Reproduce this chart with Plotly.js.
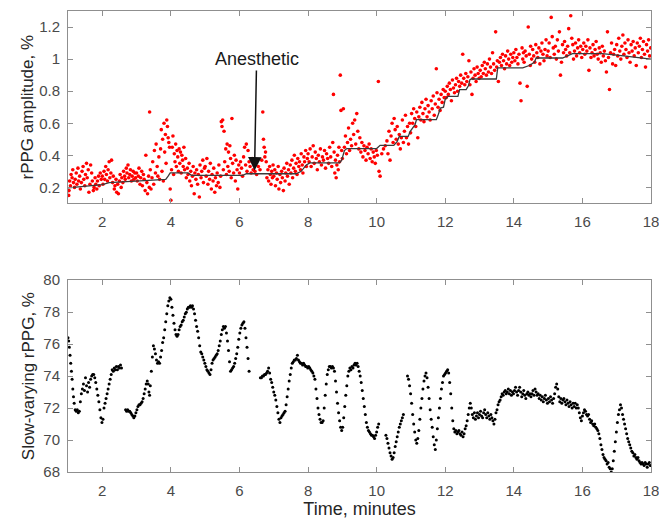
<!DOCTYPE html>
<html>
<head>
<meta charset="utf-8">
<script src="https://cdn.plot.ly/plotly-3.0.1.min.js"></script>
<style>html,body{margin:0;padding:0;background:#fff;}#chart{width:659px;height:521px;}</style>
</head>
<body>
<div id="chart"></div>
<script>
// ---- Top panel: rPPG amplitude (red dots) ----
const ampT = [
1.02,1.03,1.05,1.07,1.09,1.12,1.14,1.16,1.19,1.21,
1.24,1.26,1.29,1.31,1.34,1.36,1.39,1.41,1.44,1.46,
1.49,1.51,1.54,1.56,1.59,1.61,1.64,1.66,1.69,1.71,
1.74,1.76,1.79,1.81,1.84,1.86,1.89,1.91,1.94,1.97,
2.00,2.02,2.05,2.07,2.10,2.12,2.15,2.17,2.20,2.22,
2.25,2.27,2.30,2.32,2.35,2.37,2.40,2.42,2.45,2.47,
2.50,2.52,2.55,2.57,2.60,2.62,2.65,2.67,2.70,2.72,
2.75,2.77,2.80,2.82,2.85,2.87,2.90,2.92,2.95,2.97,
3.00,3.02,3.05,3.07,3.10,3.12,3.15,3.17,3.20,3.22,
3.25,3.27,3.30,3.32,3.35,3.37,3.38,3.40,3.42,3.45,
3.47,3.50,3.52,3.55,3.57,3.60,3.62,3.65,3.67,3.70,
3.72,3.74,3.76,3.78,3.80,3.82,3.84,3.86,3.88,3.90,
3.92,3.94,3.96,3.98,4.00,
4.02,4.04,4.06,4.08,4.10,4.12,4.14,4.16,4.18,4.20,
4.22,4.24,4.26,4.28,4.30,4.32,4.34,4.36,4.38,4.40,
4.43,4.45,4.48,4.50,4.53,4.55,4.58,4.60,4.63,4.65,
4.68,4.70,4.73,4.75,4.78,4.80,4.83,4.85,4.88,4.90,
4.93,4.95,4.98,
5.00,5.03,5.05,5.08,5.10,5.13,5.15,5.18,5.20,5.23,
5.25,5.28,5.30,5.33,5.35,5.38,5.40,5.43,5.45,5.47,
5.49,5.51,5.53,5.55,5.57,5.60,5.62,5.64,5.66,5.68,
5.70,5.72,5.74,5.76,5.78,5.80,5.83,5.85,5.88,5.90,
5.93,5.95,5.98,
6.00,6.03,6.06,6.09,6.12,6.15,6.18,6.20,6.22,6.25,
6.28,6.31,6.34,6.37,6.40,6.45,6.50,6.55,6.60,6.65,
6.68,6.70,6.72,6.74,6.76,6.78,6.80,6.83,6.85,6.88,
6.90,6.92,6.94,6.96,6.98,
7.00,7.03,7.05,7.08,7.10,7.13,7.15,7.18,7.20,7.23,
7.25,7.28,7.30,7.33,7.35,7.38,7.40,7.43,7.45,7.48,
7.50,7.53,7.55,7.58,7.60,7.63,7.65,7.68,7.70,7.73,
7.75,7.78,7.80,7.83,7.85,7.88,7.90,7.93,7.95,7.98,
8.00,8.03,8.06,8.09,8.12,8.15,8.18,8.21,8.24,8.27,
8.30,8.33,8.36,8.39,8.42,8.45,8.48,8.51,8.54,8.57,
8.60,8.63,8.66,8.69,8.72,8.74,8.76,8.78,8.80,8.82,
8.84,8.86,8.88,8.90,8.92,8.94,8.96,8.98,
9.00,9.03,9.06,9.09,9.12,9.15,9.18,9.21,9.24,9.27,
9.30,9.33,9.36,9.39,9.42,9.45,9.48,9.51,9.54,9.57,
9.60,9.63,9.66,9.69,9.72,9.75,9.78,9.81,9.84,9.87,
9.90,9.93,9.96,9.99,
10.02,10.05,10.07,10.10,10.15,10.20,10.25,10.30,10.33,10.36,
10.39,10.42,10.45,10.48,10.51,10.54,10.57,10.60,10.63,10.66,
10.69,10.72,10.75,10.78,10.81,10.84,10.87,10.90,10.93,10.96,
10.99,
11.02,11.05,11.08,11.11,11.14,11.17,11.20,11.23,11.26,11.29,
11.32,11.35,11.38,11.41,11.44,11.47,11.50,11.53,11.56,11.59,
11.62,11.65,11.68,11.71,11.74,11.76,11.79,11.82,11.85,11.88,
11.91,11.94,11.97,
12.00,12.03,12.06,12.09,12.12,12.15,12.18,12.21,12.24,12.27,
12.30,12.33,12.36,12.39,12.42,12.45,12.48,12.51,12.54,12.57,
12.60,12.63,12.66,12.69,12.72,12.75,12.78,12.81,12.84,12.87,
12.90,12.93,12.96,12.99,
13.02,13.05,13.08,13.11,13.14,13.17,13.20,13.23,13.26,13.29,
13.32,13.35,13.38,13.41,13.44,13.47,13.50,13.52,13.55,13.58,
13.61,13.64,13.67,13.70,13.73,13.76,13.79,13.82,13.85,13.88,
13.91,13.94,13.97,
14.00,14.03,14.06,14.09,14.12,14.15,14.18,14.21,14.24,14.26,
14.28,14.30,14.33,14.36,14.39,14.42,14.45,14.48,14.49,14.52,
14.55,14.58,14.61,14.64,14.67,14.70,14.73,14.76,14.79,14.82,
14.85,14.88,14.91,14.94,14.97,
15.00,15.03,15.06,15.09,15.12,15.15,15.18,15.21,15.24,15.27,
15.30,15.33,15.36,15.39,15.42,15.45,15.48,15.51,15.54,15.57,
15.60,15.63,15.66,15.69,15.72,15.74,15.77,15.80,15.83,15.86,
15.89,15.92,15.95,15.98,
16.01,16.04,16.07,16.10,16.13,16.16,16.19,16.22,16.25,16.28,
16.31,16.34,16.37,16.40,16.43,16.46,16.49,16.52,16.55,16.58,
16.61,16.64,16.67,16.70,16.73,16.76,16.79,16.82,16.85,16.88,
16.91,16.94,16.97,
17.00,17.03,17.06,17.09,17.12,17.15,17.18,17.21,17.24,17.27,
17.30,17.33,17.36,17.39,17.42,17.45,17.48,17.51,17.54,17.57,
17.60,17.63,17.66,17.69,17.72,17.75,17.78,17.81,17.84,17.87,
17.90,17.93,17.96,17.99
];
const ampV = [
0.15,0.18,0.24,0.21,0.28,0.26,0.31,0.23,0.20,0.25,
0.29,0.22,0.32,0.24,0.27,0.19,0.23,0.30,0.33,0.25,
0.21,0.28,0.35,0.26,0.31,0.17,0.22,0.34,0.29,0.24,
0.18,0.20,0.26,0.22,0.19,0.24,0.27,0.21,0.29,0.25,
0.27,0.22,0.30,0.25,0.33,0.28,0.24,0.31,0.36,0.26,
0.29,0.37,0.23,0.27,0.19,0.21,0.25,0.17,0.22,0.16,
0.24,0.28,0.20,0.26,0.23,0.30,0.27,0.25,0.32,0.29,
0.34,0.26,0.28,0.31,0.24,0.27,0.30,0.25,0.29,0.26,
0.29,0.24,0.27,0.32,0.22,0.26,0.30,0.21,0.28,0.25,
0.18,0.40,0.23,0.16,0.27,0.20,0.67,0.31,0.19,0.26,
0.36,0.22,0.43,0.29,0.47,0.33,0.27,0.39,0.25,0.44,
0.56,0.30,0.50,0.24,0.60,0.42,0.53,0.35,0.62,0.58,
0.51,0.48,0.45,0.19,0.12,
0.31,0.45,0.52,0.28,0.41,0.36,0.47,0.33,0.43,0.39,
0.30,0.44,0.35,0.42,0.29,0.40,0.37,0.33,0.45,0.31,
0.38,0.26,0.32,0.28,0.35,0.24,0.30,0.21,0.27,0.33,
0.16,0.29,0.25,0.31,0.22,0.28,0.14,0.34,0.26,0.30,
0.37,0.23,0.32,
0.33,0.27,0.38,0.22,0.30,0.25,0.35,0.19,0.28,0.24,
0.32,0.17,0.26,0.21,0.29,0.23,0.34,0.20,0.27,0.61,
0.58,0.62,0.31,0.55,0.36,0.44,0.28,0.47,0.33,0.42,
0.30,0.46,0.38,0.26,0.63,0.35,0.29,0.40,0.24,0.37,
0.31,0.19,0.34,
0.29,0.36,0.32,0.27,0.39,0.45,0.34,0.47,0.30,0.43,
0.36,0.33,0.29,0.38,0.31,0.30,0.28,0.33,0.31,0.37,
0.67,0.50,0.45,0.39,0.42,0.36,0.26,0.31,0.24,0.33,
0.28,0.22,0.30,0.26,0.34,
0.27,0.31,0.21,0.29,0.25,0.33,0.19,0.28,0.23,0.30,
0.26,0.18,0.32,0.24,0.29,0.35,0.27,0.31,0.22,0.34,
0.29,0.37,0.26,0.32,0.40,0.30,0.35,0.28,0.38,0.33,
0.36,0.31,0.41,0.34,0.29,0.39,0.36,0.43,0.33,0.38,
0.41,0.36,0.44,0.33,0.39,0.46,0.35,0.42,0.38,0.31,
0.40,0.36,0.44,0.34,0.39,0.37,0.43,0.32,0.41,0.38,
0.35,0.45,0.39,0.33,0.48,0.78,0.42,0.29,0.37,0.26,
0.34,0.40,0.31,0.45,0.36,0.90,0.68,0.43,
0.38,0.69,0.45,0.52,0.41,0.48,0.57,0.43,0.50,0.46,
0.60,0.53,0.62,0.47,0.66,0.55,0.44,0.51,0.42,0.48,
0.39,0.46,0.43,0.37,0.45,0.41,0.47,0.38,0.44,0.36,
0.42,0.39,0.35,0.43,
0.40,0.86,0.30,0.27,0.41,0.44,0.46,0.49,0.41,0.55,
0.37,0.52,0.60,0.48,0.63,0.56,0.50,0.58,0.47,0.53,
0.44,0.51,0.62,0.48,0.55,0.65,0.51,0.58,0.47,0.60,
0.54,
0.66,0.60,0.69,0.63,0.58,0.67,0.51,0.64,0.70,0.62,
0.73,0.66,0.61,0.69,0.75,0.64,0.71,0.67,0.62,0.74,
0.69,0.77,0.65,0.72,0.94,0.79,0.70,0.75,0.68,0.78,
0.73,0.81,0.76,
0.80,0.76,0.83,0.78,0.85,0.81,0.74,0.87,0.82,0.79,
0.84,0.88,0.80,0.86,0.83,0.90,0.85,1.03,0.88,0.84,
0.91,0.86,0.89,0.99,0.84,0.92,0.78,0.88,0.94,0.90,
0.86,0.95,0.91,0.88,
0.93,0.89,0.96,0.91,0.98,0.94,0.90,0.97,0.92,1.00,
0.95,0.91,1.04,0.97,0.93,1.17,0.95,0.99,0.86,0.98,
1.01,0.96,1.03,0.99,0.94,1.02,0.97,1.05,1.00,0.96,
1.03,0.98,1.01,
1.04,0.99,1.06,1.01,0.97,1.03,0.85,0.74,1.07,1.00,
1.04,0.98,1.05,1.02,0.83,1.20,1.03,0.96,1.08,1.00,
1.06,1.02,0.98,1.09,1.04,1.01,1.07,0.97,1.05,1.10,
1.03,0.99,1.06,1.12,1.02,
1.05,1.10,1.01,1.26,1.14,1.07,1.03,1.08,1.00,1.12,
1.05,1.17,0.90,0.98,1.09,1.04,1.11,1.06,1.02,1.08,
1.19,1.04,1.27,1.13,1.09,1.00,1.05,1.10,1.02,1.07,
1.12,1.04,1.08,1.01,
1.06,1.10,1.03,1.08,1.05,1.12,0.93,1.07,1.01,1.04,
1.09,1.02,1.06,1.11,1.03,1.00,1.07,1.04,0.98,1.08,
1.02,1.05,0.99,0.92,1.17,1.01,0.81,1.04,1.10,0.97,
1.03,1.06,0.96,
1.09,1.02,1.13,1.05,1.00,1.08,1.15,1.03,1.10,1.06,
1.01,1.12,1.04,0.98,1.09,1.05,1.11,1.02,1.07,0.96,
1.10,1.04,1.08,1.13,1.01,1.06,1.11,1.03,0.95,1.09,
1.05,1.12,1.02,1.07
];
// smoothed (step-like) amplitude trend
const medT = [1.0,2.0,2.2,2.9,3.85,3.92,3.98,4.5,4.6,6.1,6.2,7.65,7.8,7.95,8.05,8.92,8.98,9.06,9.13,10.0,10.1,10.5,10.55,10.6,10.66,10.92,10.98,11.12,11.16,11.74,11.8,11.86,11.95,12.0,12.08,12.37,12.42,12.61,12.68,12.72,12.76,13.49,13.53,14.26,14.45,14.6,14.65,15.42,15.71,16.58,17.2,18.0];
const medV = [0.197,0.217,0.23,0.24,0.25,0.27,0.29,0.29,0.275,0.275,0.285,0.285,0.30,0.34,0.353,0.353,0.37,0.43,0.442,0.442,0.462,0.462,0.475,0.487,0.518,0.518,0.55,0.591,0.622,0.622,0.656,0.695,0.70,0.75,0.768,0.768,0.81,0.81,0.835,0.872,0.876,0.876,0.945,0.945,0.96,0.98,1.007,1.007,1.034,1.034,1.02,1.0];

// ---- Bottom panel: slow-varying rPPG ----
const slowT = [
1.00,1.02,1.04,1.06,1.08,1.10,1.12,1.14,1.16,1.18,
1.21,1.24,1.27,1.30,1.33,1.36,1.39,1.42,1.45,1.48,
1.51,1.54,1.57,1.60,1.63,1.66,1.69,1.72,1.75,1.78,
1.81,1.84,1.87,1.90,1.93,1.96,1.99,2.02,2.05,2.08,
2.11,2.14,2.17,2.20,2.23,2.26,2.29,2.32,2.35,2.38,
2.41,2.44,2.47,2.50,2.53,2.56,
2.68,2.71,2.74,2.77,2.80,2.83,2.86,2.89,2.92,2.95,
2.98,3.01,3.04,3.07,3.10,3.13,3.16,3.19,3.22,3.25,
3.28,3.31,3.34,3.36,3.38,3.40,3.43,3.46,3.49,3.52,
3.55,3.58,3.61,3.64,3.67,3.70,3.73,3.76,3.79,3.82,
3.85,3.88,3.91,3.94,3.97,4.00,4.03,4.06,4.09,4.12,
4.15,4.18,4.21,4.24,4.27,4.30,4.33,4.36,4.39,4.42,
4.45,4.48,4.51,4.54,4.57,4.60,4.63,4.66,4.69,4.72,
4.75,4.78,4.81,4.84,4.87,4.90,4.93,4.96,4.99,5.02,
5.05,5.08,5.11,5.14,5.17,5.20,5.23,5.26,5.29,5.32,
5.35,5.38,5.41,5.44,5.47,5.50,5.53,5.56,5.59,5.62,
5.65,5.68,5.71,5.74,5.77,5.80,5.83,5.86,5.89,5.92,
5.95,5.98,6.01,6.04,6.07,6.10,6.13,6.16,6.19,6.22,
6.25,6.28,
6.61,6.64,6.67,6.70,6.73,6.76,6.79,6.82,6.85,6.88,
6.91,6.94,6.97,7.00,7.03,7.06,7.09,7.12,7.15,7.18,
7.21,7.24,7.27,7.30,7.33,7.36,7.39,7.42,7.45,7.48,
7.51,7.54,7.57,7.60,7.63,7.66,7.69,7.72,7.75,7.78,
7.81,7.84,7.87,7.90,7.93,7.96,7.99,8.02,8.05,8.08,
8.11,8.14,8.17,8.20,8.23,8.26,8.29,8.32,8.35,8.38,
8.41,8.44,8.47,8.50,8.53,8.56,8.59,8.62,8.65,8.68,
8.71,8.74,8.77,8.80,8.83,8.86,8.89,8.92,8.95,8.98,
9.01,9.04,9.07,9.10,9.13,9.16,9.19,9.22,9.25,9.28,
9.31,9.34,9.37,9.40,9.43,9.46,9.49,9.52,9.55,9.58,
9.61,9.64,9.67,9.70,9.73,9.76,9.79,9.82,9.85,9.88,
9.91,9.94,9.97,10.00,10.03,10.06,
10.27,10.30,10.33,10.36,10.39,10.42,10.45,10.48,10.51,10.54,
10.57,10.60,10.63,10.66,10.69,10.72,10.75,10.78,
10.90,10.93,10.96,10.99,11.02,11.05,11.08,11.11,11.14,11.17,
11.20,11.23,11.26,11.29,11.32,11.35,11.38,11.41,11.44,11.47,
11.50,11.53,11.56,11.59,11.62,11.65,11.68,11.71,11.74,11.77,
11.80,11.83,11.86,11.89,11.92,11.95,11.98,12.01,12.04,12.07,
12.10,12.13,12.16,12.19,12.22,12.25,12.28,12.31,12.34,12.37,
12.40,12.43,12.46,12.49,12.52,12.55,12.58,12.61,12.64,12.67,
12.70,12.73,12.76,12.79,12.82,12.85,12.88,12.91,12.94,12.97,
13.00,13.03,13.06,13.09,13.12,13.15,13.18,13.21,13.24,13.27,
13.30,13.33,13.36,13.39,13.42,13.45,13.48,13.51,13.54,13.57,
13.60,13.63,13.66,13.69,13.72,13.75,13.78,13.81,13.84,13.87,
13.90,13.93,13.96,13.99,14.02,14.05,14.08,14.11,14.14,14.17,
14.20,14.23,14.26,14.29,14.32,14.35,14.38,14.41,14.44,14.47,
14.50,14.53,14.56,14.59,14.62,14.65,14.68,14.71,14.74,14.77,
14.80,14.83,14.86,14.89,14.92,14.95,14.98,15.01,15.04,15.07,
15.10,15.13,15.16,15.19,15.22,15.25,15.28,15.31,15.34,15.37,
15.40,15.43,15.46,15.49,15.52,15.55,15.58,15.61,15.64,15.67,
15.70,15.73,15.76,15.79,15.82,15.85,15.88,15.91,15.94,15.97,
16.00,16.03,16.06,16.09,16.12,16.15,16.18,16.21,16.24,16.27,
16.30,16.33,16.36,16.39,16.42,16.45,16.48,16.51,16.54,16.57,
16.60,16.63,16.66,16.69,16.72,16.75,16.78,16.81,16.84,16.87,
16.90,16.93,16.96,16.99,17.02,17.05,17.08,17.11,17.14,17.17,
17.20,17.23,17.26,17.29,17.32,17.35,17.38,17.41,17.44,17.47,
17.50,17.53,17.56,17.59,17.62,17.65,17.68,17.71,17.74,17.77,
17.80,17.83,17.86,17.89,17.92,17.95,17.98
];
const slowV = [
76.4,76.2,75.8,75.3,74.8,74.3,73.8,73.2,72.7,72.3,
71.9,71.8,71.9,71.7,71.8,72.4,72.9,73.2,73.5,73.1,
73.9,73.4,73.0,73.6,73.3,73.8,74.0,74.1,74.1,73.9,
73.6,73.2,72.8,72.4,71.9,71.4,71.1,71.3,72.0,72.3,
72.6,72.9,73.2,73.5,73.8,74.1,74.4,74.3,74.5,74.4,
74.6,74.4,74.6,74.5,74.7,74.5,
71.9,71.8,71.9,71.8,71.8,71.7,71.6,71.5,71.4,71.5,
71.7,71.9,72.1,72.2,72.2,72.3,72.4,72.6,72.9,73.2,
73.5,73.7,73.5,73.0,72.8,73.4,74.3,75.2,75.9,75.7,
75.4,75.0,74.8,74.9,74.8,75.2,75.6,76.1,76.4,76.9,
77.4,77.9,78.4,78.7,78.9,78.8,78.3,77.8,77.3,76.9,
76.6,76.5,76.6,76.9,77.1,77.2,77.4,77.5,77.7,77.9,
78.0,78.2,78.3,78.3,78.4,78.3,78.4,78.2,77.9,77.5,
77.1,76.8,76.4,75.9,75.5,75.4,75.2,75.0,74.8,74.6,
74.4,74.3,74.2,74.1,74.4,74.8,75.0,75.1,75.2,75.3,
75.4,75.6,75.9,76.2,76.6,76.9,77.1,77.0,77.1,76.7,
76.2,75.6,74.9,74.3,74.4,74.5,74.6,74.8,75.1,75.4,
75.8,76.3,76.7,77.0,77.2,77.3,77.4,77.0,76.4,75.8,
75.1,74.3,
73.9,73.9,74.0,74.0,74.1,74.1,74.2,74.3,74.5,74.2,
73.8,73.6,73.3,73.0,72.8,72.5,72.1,71.7,71.3,71.1,
71.4,71.5,71.6,71.7,71.8,72.2,72.7,73.2,73.7,74.1,
74.5,74.8,74.9,75.0,75.0,75.1,75.3,75.0,74.9,74.8,
74.8,74.7,74.8,74.7,74.6,74.6,74.5,74.6,74.5,74.4,
74.3,74.2,74.0,73.8,73.2,72.6,72.0,71.6,71.3,71.1,
71.1,71.2,72.0,72.8,73.5,74.1,74.4,74.6,74.6,74.5,
74.6,74.5,74.3,73.7,73.0,72.3,71.7,71.2,70.8,70.6,
70.8,71.4,72.1,72.8,73.4,74.0,74.3,74.5,74.4,74.6,
74.5,74.7,74.8,74.7,74.8,74.6,74.3,74.0,73.6,73.1,
72.6,72.1,71.6,71.1,70.8,70.6,70.5,70.4,70.3,70.3,
70.2,70.1,70.3,70.5,70.8,71.0,
70.3,70.1,69.8,69.5,69.2,69.0,68.8,68.9,69.2,69.6,
69.9,70.2,70.5,70.8,71.0,71.2,71.4,71.6,
74.0,73.8,73.4,72.9,72.3,71.6,71.0,70.5,70.0,69.8,
70.1,70.6,71.3,72.0,72.6,73.2,73.7,74.0,74.2,73.9,
73.3,72.6,71.9,71.3,70.8,70.2,69.7,69.4,70.0,70.7,
71.4,72.0,72.6,73.2,73.6,74.0,74.1,74.2,74.3,74.4,
74.2,73.6,72.9,72.0,71.2,70.7,70.5,70.6,70.4,70.5,
70.6,70.4,70.3,70.5,70.2,70.4,70.7,70.9,71.2,71.6,
72.0,72.3,72.0,71.6,71.4,71.7,71.3,71.5,71.7,71.4,
71.6,71.8,71.5,71.4,71.7,71.9,71.6,71.4,71.7,71.5,
71.3,71.6,71.4,71.2,71.0,71.3,71.7,71.9,72.2,72.4,
72.5,72.7,72.9,72.8,73.0,73.1,72.9,73.0,73.2,72.9,
73.1,72.8,73.0,72.9,73.1,73.3,73.0,72.8,73.1,73.3,
73.0,72.7,72.9,73.1,72.8,72.6,72.9,73.0,72.8,72.9,
72.7,72.9,73.1,72.8,73.2,73.0,72.8,72.9,72.6,72.8,
72.5,72.7,72.4,72.6,72.8,72.5,72.3,72.6,72.4,72.7,
72.5,72.3,72.6,72.9,73.3,73.5,73.2,72.7,72.4,72.6,
72.3,72.5,72.6,72.4,72.2,72.5,72.3,72.1,72.4,72.2,
72.0,72.3,72.1,72.3,72.0,72.2,72.0,71.7,71.4,71.2,
71.5,71.7,71.9,71.8,71.6,71.5,71.6,71.3,71.1,71.2,
71.0,70.9,71.0,70.8,70.7,70.6,70.4,70.1,69.7,69.4,
69.1,68.9,68.8,68.7,68.5,68.6,68.3,68.2,68.0,68.2,
68.7,69.3,69.9,70.5,71.1,71.6,71.9,72.2,72.0,71.6,
71.3,71.0,70.7,70.4,70.1,69.9,69.7,69.5,69.3,69.2,
69.0,69.1,68.9,68.8,68.9,68.7,68.6,68.5,68.6,68.5,
68.4,68.6,68.5,68.3,68.5,68.6,68.4
];

const xTicks = [2,4,6,8,10,12,14,16,18];
const ampTicks = [0.2,0.4,0.6,0.8,1,1.2];
const slowTicks = [68,70,72,74,76,78,80];

const FONT = 'Liberation Sans, Arial, Helvetica, sans-serif';
const frame = '#8f8f8f';
const tickFont = {family: FONT, size: 15, color: '#4a4a4a'};
const titleFont = {family: FONT, size: 17, color: '#262626'};

function axisBase(extra) {
  return Object.assign({
    showline: true, linecolor: frame, linewidth: 1, mirror: 'ticks',
    ticks: 'inside', ticklen: 5, tickwidth: 1, tickcolor: frame,
    showgrid: false, zeroline: false, tickfont: tickFont, fixedrange: true,
    ticklabeloverflow: 'allow', automargin: false
  }, extra);
}

const traces = [
  {x: ampT, y: ampV, xaxis: 'x', yaxis: 'y', type: 'scatter', mode: 'markers',
   marker: {color: '#ff0000', size: 3.6}, hoverinfo: 'skip', cliponaxis: true},
  {x: medT, y: medV, xaxis: 'x', yaxis: 'y', type: 'scatter', mode: 'lines',
   line: {color: '#3a3a3a', width: 1.3}, hoverinfo: 'skip'},
  {x: slowT, y: slowV, xaxis: 'x2', yaxis: 'y2', type: 'scatter', mode: 'markers',
   marker: {color: '#000000', size: 3}, hoverinfo: 'skip', cliponaxis: true}
];

const layout = {
  width: 659, height: 521,
  margin: {l: 68, r: 8, t: 11, b: 49, pad: 0},
  paper_bgcolor: '#ffffff', plot_bgcolor: '#ffffff',
  showlegend: false,
  font: {family: FONT, size: 15, color: '#4a4a4a'},
  xaxis: axisBase({domain: [0, 1], range: [1, 18], anchor: 'y', tickvals: xTicks, ticklabelstandoff: 5}),
  yaxis: axisBase({domain: [0.5826, 1], range: [0.1, 1.3], anchor: 'x', tickvals: ampTicks, ticklabelstandoff: 4,
    title: {text: 'rPPG amplitude, %', font: titleFont, standoff: 1}}),
  xaxis2: axisBase({domain: [0, 1], range: [1, 18], anchor: 'y2', tickvals: xTicks, ticklabelstandoff: 5,
    title: {text: 'Time, minutes', font: {family: FONT, size: 18, color: '#262626'}, standoff: 4}}),
  yaxis2: axisBase({domain: [0, 0.4161], range: [68, 80], anchor: 'x2', tickvals: slowTicks, ticklabelstandoff: 4,
    title: {text: 'Slow-varying rPPG, %', font: titleFont, standoff: 4}}),
  annotations: [{
    xref: 'x', yref: 'y', x: 6.44, y: 0.305,
    axref: 'x', ayref: 'y', ax: 6.5, ay: 1.0,
    text: 'Anesthetic', showarrow: true, arrowhead: 2, arrowsize: 1.8, arrowwidth: 1.5,
    arrowcolor: '#111111', font: {family: FONT, size: 18, color: '#1a1a1a'}
  }]
};

Plotly.newPlot('chart', traces, layout, {displayModeBar: false, staticPlot: true});
</script>
</body>
</html>
